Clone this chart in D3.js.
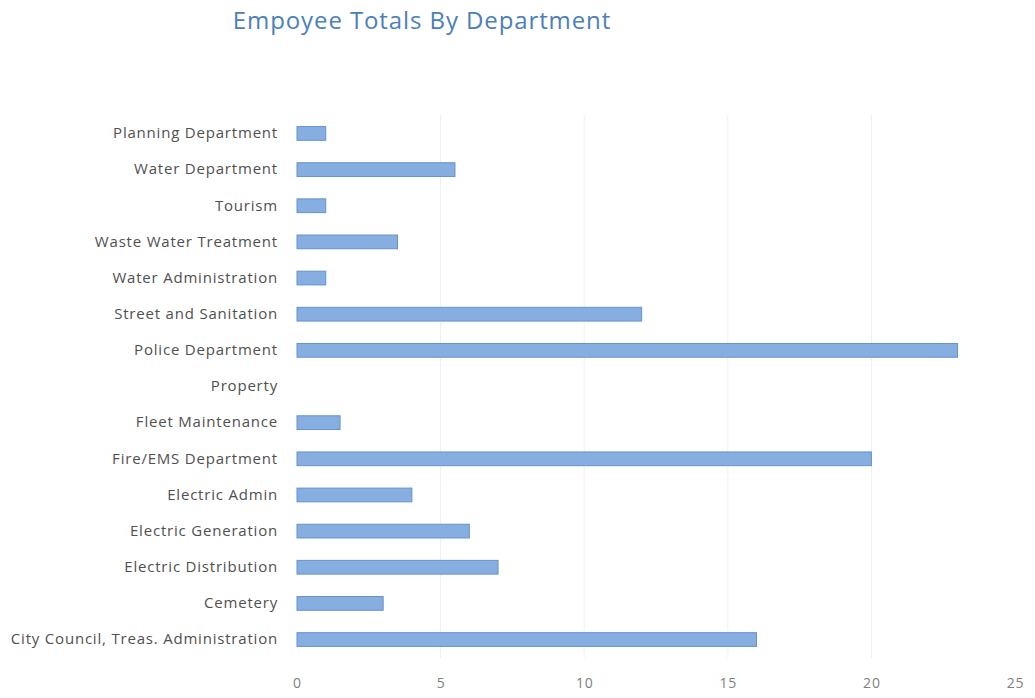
<!DOCTYPE html>
<html>
<head>
<meta charset="utf-8">
<script src="https://cdn.jsdelivr.net/npm/d3@7"></script>
<style>
  html, body { margin: 0; padding: 0; background: #fff; }
  svg { display: block; }
</style>
</head>
<body>
<svg id="chart" width="1035" height="698"></svg>
<script>
// Departments, listed top to bottom
const departments = [
  "Planning Department",
  "Water Department",
  "Tourism",
  "Waste Water Treatment",
  "Water Administration",
  "Street and Sanitation",
  "Police Department",
  "Property",
  "Fleet Maintenance",
  "Fire/EMS Department",
  "Electric Admin",
  "Electric Generation",
  "Electric Distribution",
  "Cemetery",
  "City Council, Treas. Administration"
];

// Employee totals per department
const employees = [1, 5.5, 1, 3.5, 1, 12, 23, 0, 1.5, 20, 4, 6, 7, 3, 16];

// Axis ticks
const xTicks = [0, 5, 10, 15, 20, 25];

const svg = d3.select("#chart");
const font = "'Open Sans', 'Noto Sans', sans-serif";

const plot = { left: 297, right: 1015, top: 115, bottom: 658 };

const x = d3.scaleLinear().domain([0, 25]).range([plot.left, plot.right]);
const y = d3.scaleBand().domain(departments).range([plot.top, plot.bottom]).paddingInner(0.62).paddingOuter(0.32);

// Faint vertical gridlines
svg.append("g")
  .selectAll("line")
  .data(xTicks.filter(d => d > 0 && d < 25))
  .join("line")
  .attr("x1", d => x(d)).attr("x2", d => x(d))
  .attr("y1", plot.top).attr("y2", plot.bottom)
  .attr("stroke", "#efefef")
  .attr("stroke-width", 1);

// Bars
const data = departments.map((d, i) => ({ dept: d, value: employees[i] }));
svg.append("g")
  .selectAll("rect")
  .data(data.filter(d => d.value > 0))
  .join("rect")
  .attr("x", x(0))
  .attr("y", d => y(d.dept))
  .attr("width", d => x(d.value) - x(0))
  .attr("height", y.bandwidth())
  .attr("fill", "#86aee0")
  .attr("stroke", "#6692cc")
  .attr("stroke-width", 1);

// Category axis (labels only)
const yAxis = svg.append("g")
  .attr("transform", `translate(${plot.left - 19},0)`)
  .call(d3.axisLeft(y).tickSize(0).tickPadding(0));
yAxis.select(".domain").remove();
yAxis.selectAll("text")
  .attr("font-family", font)
  .attr("font-size", 15)
  .attr("letter-spacing", "0.8px")
  .attr("fill", "#505050");

// Value axis (labels only)
const xAxis = svg.append("g")
  .attr("transform", `translate(0,${plot.bottom + 20})`)
  .call(d3.axisBottom(x).tickValues(xTicks).tickSize(0).tickPadding(0));
xAxis.select(".domain").remove();
xAxis.selectAll("text")
  .attr("font-family", font)
  .attr("font-size", 14)
  .attr("letter-spacing", "0.8px")
  .attr("fill", "#808080");

// Title
svg.append("text")
  .attr("x", 422)
  .attr("y", 29)
  .attr("text-anchor", "middle")
  .attr("font-family", font)
  .attr("font-size", 24)
  .attr("letter-spacing", "0.9px")
  .attr("fill", "#4a80bb")
  .text("Empoyee Totals By Department");
</script>
</body>
</html>
